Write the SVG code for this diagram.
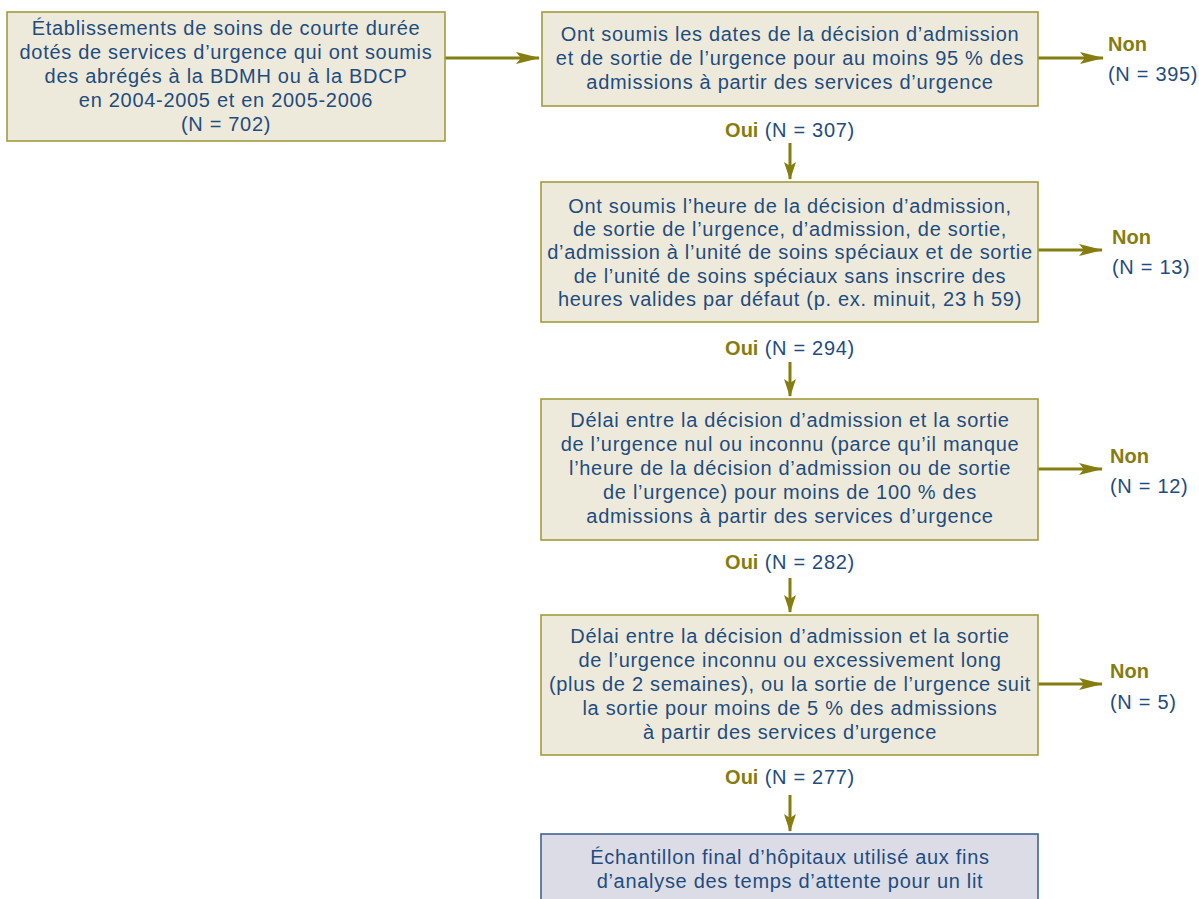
<svg xmlns="http://www.w3.org/2000/svg" width="1199" height="899" viewBox="0 0 1199 899">
<style>
.box{fill:#eeeadb;stroke:#a39c3e;stroke-width:1.6}
.fin{fill:#dcdce6;stroke:#3e6595;stroke-width:1.6}
.t{font-family:"Liberation Sans",Arial,sans-serif;font-size:20px;letter-spacing:0.7px;fill:#1f4c7e;text-anchor:middle}
.l{font-family:"Liberation Sans",Arial,sans-serif;font-size:20px;letter-spacing:0.7px;fill:#1f4c7e}
.b{font-weight:bold;fill:#857d10;letter-spacing:0}
.c{fill:none;stroke:#857d10;stroke-width:3}
</style>
<defs>
<marker id="ah" viewBox="0 0 24 12" refX="23" refY="6" markerWidth="24" markerHeight="12" markerUnits="userSpaceOnUse" orient="auto">
<path d="M0,0 L24,6 L0,12 L5,6 Z" fill="#857d10"/>
</marker>
<marker id="av" viewBox="0 0 18 12" refX="17" refY="6" markerWidth="18" markerHeight="12" markerUnits="userSpaceOnUse" orient="auto">
<path d="M0,0 L18,6 L0,12 L4,6 Z" fill="#857d10"/>
</marker>
</defs>

<g id="connectors">
<path class="c" d="M445,58 H539" marker-end="url(#ah)"/>
<path class="c" d="M1038,58 H1103" marker-end="url(#ah)"/>
<path class="c" d="M1038,250 H1102" marker-end="url(#ah)"/>
<path class="c" d="M1038,469 H1102" marker-end="url(#ah)"/>
<path class="c" d="M1038,684 H1102" marker-end="url(#ah)"/>
<path class="c" d="M790,143 V179" marker-end="url(#av)"/>
<path class="c" d="M790,362 V396" marker-end="url(#av)"/>
<path class="c" d="M790,578 V612" marker-end="url(#av)"/>
<path class="c" d="M790,795 V831" marker-end="url(#av)"/>
</g>

<g id="n1">
<rect class="box" x="7" y="12" width="438" height="129"/>
<text class="t" x="226" y="35">Établissements de soins de courte durée</text>
<text class="t" x="226" y="59">dotés de services d’urgence qui ont soumis</text>
<text class="t" x="226" y="83">des abrégés à la BDMH ou à la BDCP</text>
<text class="t" x="226" y="107">en 2004-2005 et en 2005-2006</text>
<text class="t" x="226" y="131">(N = 702)</text>
</g>

<g id="n2">
<rect class="box" x="542" y="12" width="496" height="94"/>
<text class="t" x="790" y="41">Ont soumis les dates de la décision d’admission</text>
<text class="t" x="790" y="65">et de sortie de l’urgence pour au moins 95 % des</text>
<text class="t" x="790" y="89">admissions à partir des services d’urgence</text>
</g>
<g id="non1">
<text class="l b" x="1108" y="51">Non</text>
<text class="l" x="1108" y="81">(N = 395)</text>
</g>
<g id="oui1"><text class="t" x="790" y="137"><tspan class="b">Oui</tspan> (N = 307)</text></g>

<g id="n3">
<rect class="box" x="541" y="182" width="497" height="140"/>
<text class="t" x="790" y="213">Ont soumis l’heure de la décision d’admission,</text>
<text class="t" x="790" y="236">de sortie de l’urgence, d’admission, de sortie,</text>
<text class="t" x="790" y="259">d’admission à l’unité de soins spéciaux et de sortie</text>
<text class="t" x="790" y="283">de l’unité de soins spéciaux sans inscrire des</text>
<text class="t" x="790" y="306">heures valides par défaut (p. ex. minuit, 23 h 59)</text>
</g>
<g id="non2">
<text class="l b" x="1112" y="244">Non</text>
<text class="l" x="1112" y="274">(N = 13)</text>
</g>
<g id="oui2"><text class="t" x="790" y="355"><tspan class="b">Oui</tspan> (N = 294)</text></g>

<g id="n4">
<rect class="box" x="541" y="399" width="497" height="141"/>
<text class="t" x="790" y="427">Délai entre la décision d’admission et la sortie</text>
<text class="t" x="790" y="451">de l’urgence nul ou inconnu (parce qu’il manque</text>
<text class="t" x="790" y="475">l’heure de la décision d’admission ou de sortie</text>
<text class="t" x="790" y="499">de l’urgence) pour moins de 100 % des</text>
<text class="t" x="790" y="523">admissions à partir des services d’urgence</text>
</g>
<g id="non3">
<text class="l b" x="1110" y="463">Non</text>
<text class="l" x="1110" y="493">(N = 12)</text>
</g>
<g id="oui3"><text class="t" x="790" y="569"><tspan class="b">Oui</tspan> (N = 282)</text></g>

<g id="n5">
<rect class="box" x="541" y="615" width="497" height="140"/>
<text class="t" x="790" y="643">Délai entre la décision d’admission et la sortie</text>
<text class="t" x="790" y="667">de l’urgence inconnu ou excessivement long</text>
<text class="t" x="790" y="691">(plus de 2 semaines), ou la sortie de l’urgence suit</text>
<text class="t" x="790" y="715">la sortie pour moins de 5 % des admissions</text>
<text class="t" x="790" y="739">à partir des services d’urgence</text>
</g>
<g id="non4">
<text class="l b" x="1110" y="678">Non</text>
<text class="l" x="1110" y="709">(N = 5)</text>
</g>
<g id="oui4"><text class="t" x="790" y="784"><tspan class="b">Oui</tspan> (N = 277)</text></g>

<g id="n6">
<rect class="fin" x="541" y="834" width="497" height="80"/>
<text class="t" x="790" y="864">Échantillon final d’hôpitaux utilisé aux fins</text>
<text class="t" x="790" y="888">d’analyse des temps d’attente pour un lit</text>
</g>
</svg>
